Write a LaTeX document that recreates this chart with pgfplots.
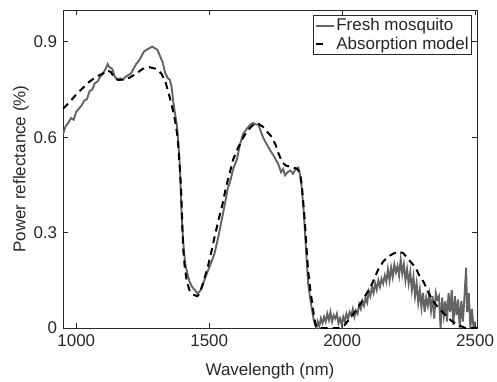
\documentclass[border=0pt]{standalone}
\usepackage{fontspec}
\setmainfont{Liberation Sans}
\usepackage{pgfplots}
\pgfplotsset{compat=1.18}
\definecolor{solidgray}{RGB}{100,100,100}
\definecolor{axgray}{RGB}{40,40,40}
\begin{document}
\fontsize{17bp}{20bp}\selectfont
\begin{tikzpicture}
\begin{axis}[
  at={(0,0)}, anchor=south west,
  scale only axis,
  width=414bp, height=318bp,
  xmin=950, xmax=2507, ymin=0, ymax=1.0,
  xtick={1000,1500,2000,2500},
  ytick={0,0.3,0.6,0.9},
  /pgf/number format/1000 sep={},
  /pgf/number format/assume math mode=true,
  tick align=inside,
  major tick length=5bp,
  axis line style={axgray, line width=0.9bp},
  every tick/.style={axgray, line width=0.9bp},
  tick label style={font=\fontsize{17bp}{20bp}\selectfont, text=axgray},
  label style={font=\fontsize{17bp}{20bp}\selectfont, text=axgray},
  xlabel={Wavelength (nm)},
  ylabel={Power reflectance (\%)},
  xticklabel style={yshift=-1bp},
  xlabel style={yshift=-5bp},
  ylabel style={yshift=-7bp},
  legend style={at={(rel axis cs:0.988,0.984)}, anchor=north east,
    draw=axgray, line width=0.9bp, fill=white, inner sep=2bp,
    font=\fontsize{17bp}{20bp}\selectfont, text=black!85,
    row sep=1.5bp,
    nodes={inner sep=1bp}},
  legend cell align=left,
  legend image code/.code={\draw[#1] (0bp,0bp) -- (18bp,0bp);},
]
\addplot[solidgray, line width=1.9bp] coordinates {
(950,0.61) (960,0.635) (970,0.645) (980,0.66) (990,0.655) (1000,0.68) (1010,0.69) (1020,0.70) (1030,0.715) (1040,0.72)
(1050,0.745) (1060,0.75) (1070,0.77) (1080,0.775) (1090,0.79) (1100,0.80) (1110,0.815) (1118,0.83) (1125,0.82) (1135,0.815)
(1145,0.79) (1155,0.78) (1165,0.785) (1175,0.78) (1185,0.79) (1195,0.795) (1205,0.80) (1215,0.815) (1225,0.83) (1235,0.84)
(1245,0.855) (1255,0.87) (1265,0.875) (1275,0.88) (1285,0.885) (1295,0.88) (1305,0.875) (1315,0.855) (1325,0.835) (1335,0.80)
(1345,0.785) (1352,0.78) (1358,0.76) (1365,0.71) (1372,0.67) (1378,0.64) (1384,0.58) (1390,0.50) (1395,0.38) (1400,0.30)
(1405,0.24) (1410,0.20) (1418,0.17) (1426,0.145) (1435,0.13) (1445,0.12) (1455,0.11) (1465,0.115) (1475,0.135) (1490,0.17)
(1505,0.20) (1520,0.235) (1535,0.29) (1547,0.34) (1560,0.395) (1570,0.44) (1580,0.465) (1590,0.50) (1604,0.53) (1615,0.575)
(1627,0.61) (1640,0.625) (1655,0.64) (1665,0.645) (1675,0.64) (1685,0.64) (1695,0.615) (1705,0.595) (1715,0.58) (1728,0.56)
(1740,0.545) (1750,0.53) (1760,0.515) (1770,0.49) (1778,0.50) (1785,0.48) (1795,0.49) (1805,0.495) (1815,0.485) (1825,0.50)
(1835,0.505) (1842,0.48) (1848,0.44) (1855,0.37) (1860,0.30) (1866,0.22) (1872,0.14) (1880,0.09) (1887,0.055) (1893,0.025)
(1898,0.01) (1903,0.0) (1908,0.02) (1914,0.005) (1920,0.03) (1926,0.015) (1932,0.035) (1938,0.02) (1944,0.045) (1950,0.025)
(1956,0.05) (1962,0.02) (1968,0.04) (1974,0.03) (1980,0.045) (1986,0.015) (1992,0.03) (1998,0.01) (2004,0.035) (2010,0.02)
(2016,0.045) (2022,0.03) (2028,0.05) (2034,0.04) (2040,0.06) (2046,0.035) (2052,0.055) (2058,0.045) (2064,0.075) (2070,0.06)
(2076,0.085) (2082,0.07) (2088,0.095) (2094,0.08) (2100,0.115) (2106,0.10) (2112,0.13) (2118,0.11) (2124,0.14) (2130,0.12)
(2136,0.15) (2142,0.13) (2148,0.155) (2154,0.14) (2160,0.165) (2166,0.145) (2172,0.185) (2178,0.15) (2184,0.19) (2190,0.16)
(2196,0.20) (2202,0.175) (2208,0.195) (2214,0.165) (2220,0.215) (2226,0.17) (2232,0.20) (2238,0.15) (2244,0.185) (2250,0.14)
(2256,0.175) (2262,0.12) (2268,0.16) (2274,0.10) (2280,0.14) (2286,0.08) (2292,0.12) (2298,0.065) (2304,0.11) (2310,0.05)
(2316,0.095) (2322,0.07) (2328,0.105) (2334,0.055) (2340,0.10) (2346,0.03) (2352,0.11) (2358,0.09) (2364,0.10) (2370,0.0)
(2376,0.095) (2382,0.04) (2388,0.085) (2394,0.02) (2400,0.11) (2406,0.05) (2412,0.12) (2418,0.01) (2424,0.10) (2430,0.04)
(2436,0.09) (2442,0.0) (2448,0.085) (2454,0.02) (2460,0.10) (2466,0.19) (2470,0.05) (2476,0.11) (2482,0.0) (2488,0.06)
(2494,0.0) (2500,0.02)
};
\addlegendentry{Fresh mosquito}
\addplot[black, line width=2bp, dash pattern=on 7bp off 5bp,
  legend image post style={dash pattern=on 7bp off 14bp}] coordinates {
(950,0.69) (975,0.71) (1000,0.735) (1025,0.755) (1050,0.775) (1075,0.79) (1100,0.80) (1115,0.81) (1130,0.805) (1145,0.785)
(1160,0.78) (1180,0.782) (1200,0.787) (1225,0.80) (1250,0.815) (1275,0.82) (1300,0.815) (1320,0.80) (1335,0.775) (1350,0.73)
(1362,0.69) (1372,0.65) (1381,0.60) (1388,0.52) (1394,0.44) (1398,0.34) (1402,0.25) (1408,0.19) (1415,0.15) (1425,0.12)
(1440,0.105) (1455,0.10) (1465,0.11) (1480,0.15) (1494,0.19) (1508,0.24) (1521,0.29) (1535,0.34) (1550,0.39) (1565,0.45)
(1578,0.49) (1590,0.53) (1608,0.566) (1625,0.595) (1641,0.617) (1660,0.635) (1679,0.645) (1702,0.633) (1720,0.615) (1736,0.60)
(1750,0.575) (1760,0.55) (1775,0.52) (1790,0.51) (1811,0.507) (1830,0.50) (1841,0.49) (1848,0.45) (1853,0.40) (1860,0.33)
(1866,0.25) (1872,0.18) (1880,0.12) (1887,0.08) (1895,0.03) (1902,0.005) (1910,0.0) (1990,0.0) (2010,0.01) (2038,0.04)
(2060,0.065) (2079,0.09) (2100,0.12) (2113,0.14) (2136,0.185) (2155,0.21) (2174,0.225) (2195,0.235) (2215,0.24) (2230,0.235)
(2250,0.215) (2276,0.19) (2290,0.165) (2306,0.145) (2325,0.11) (2340,0.088) (2360,0.065) (2378,0.05) (2400,0.03) (2415,0.02)
(2440,0.008) (2464,0.0) (2507,0.0)
};
\addlegendentry{Absorption model}
\end{axis}
\pgfresetboundingbox
\path (-63bp,-54bp) rectangle (434bp,328bp);
\end{tikzpicture}
\end{document}
